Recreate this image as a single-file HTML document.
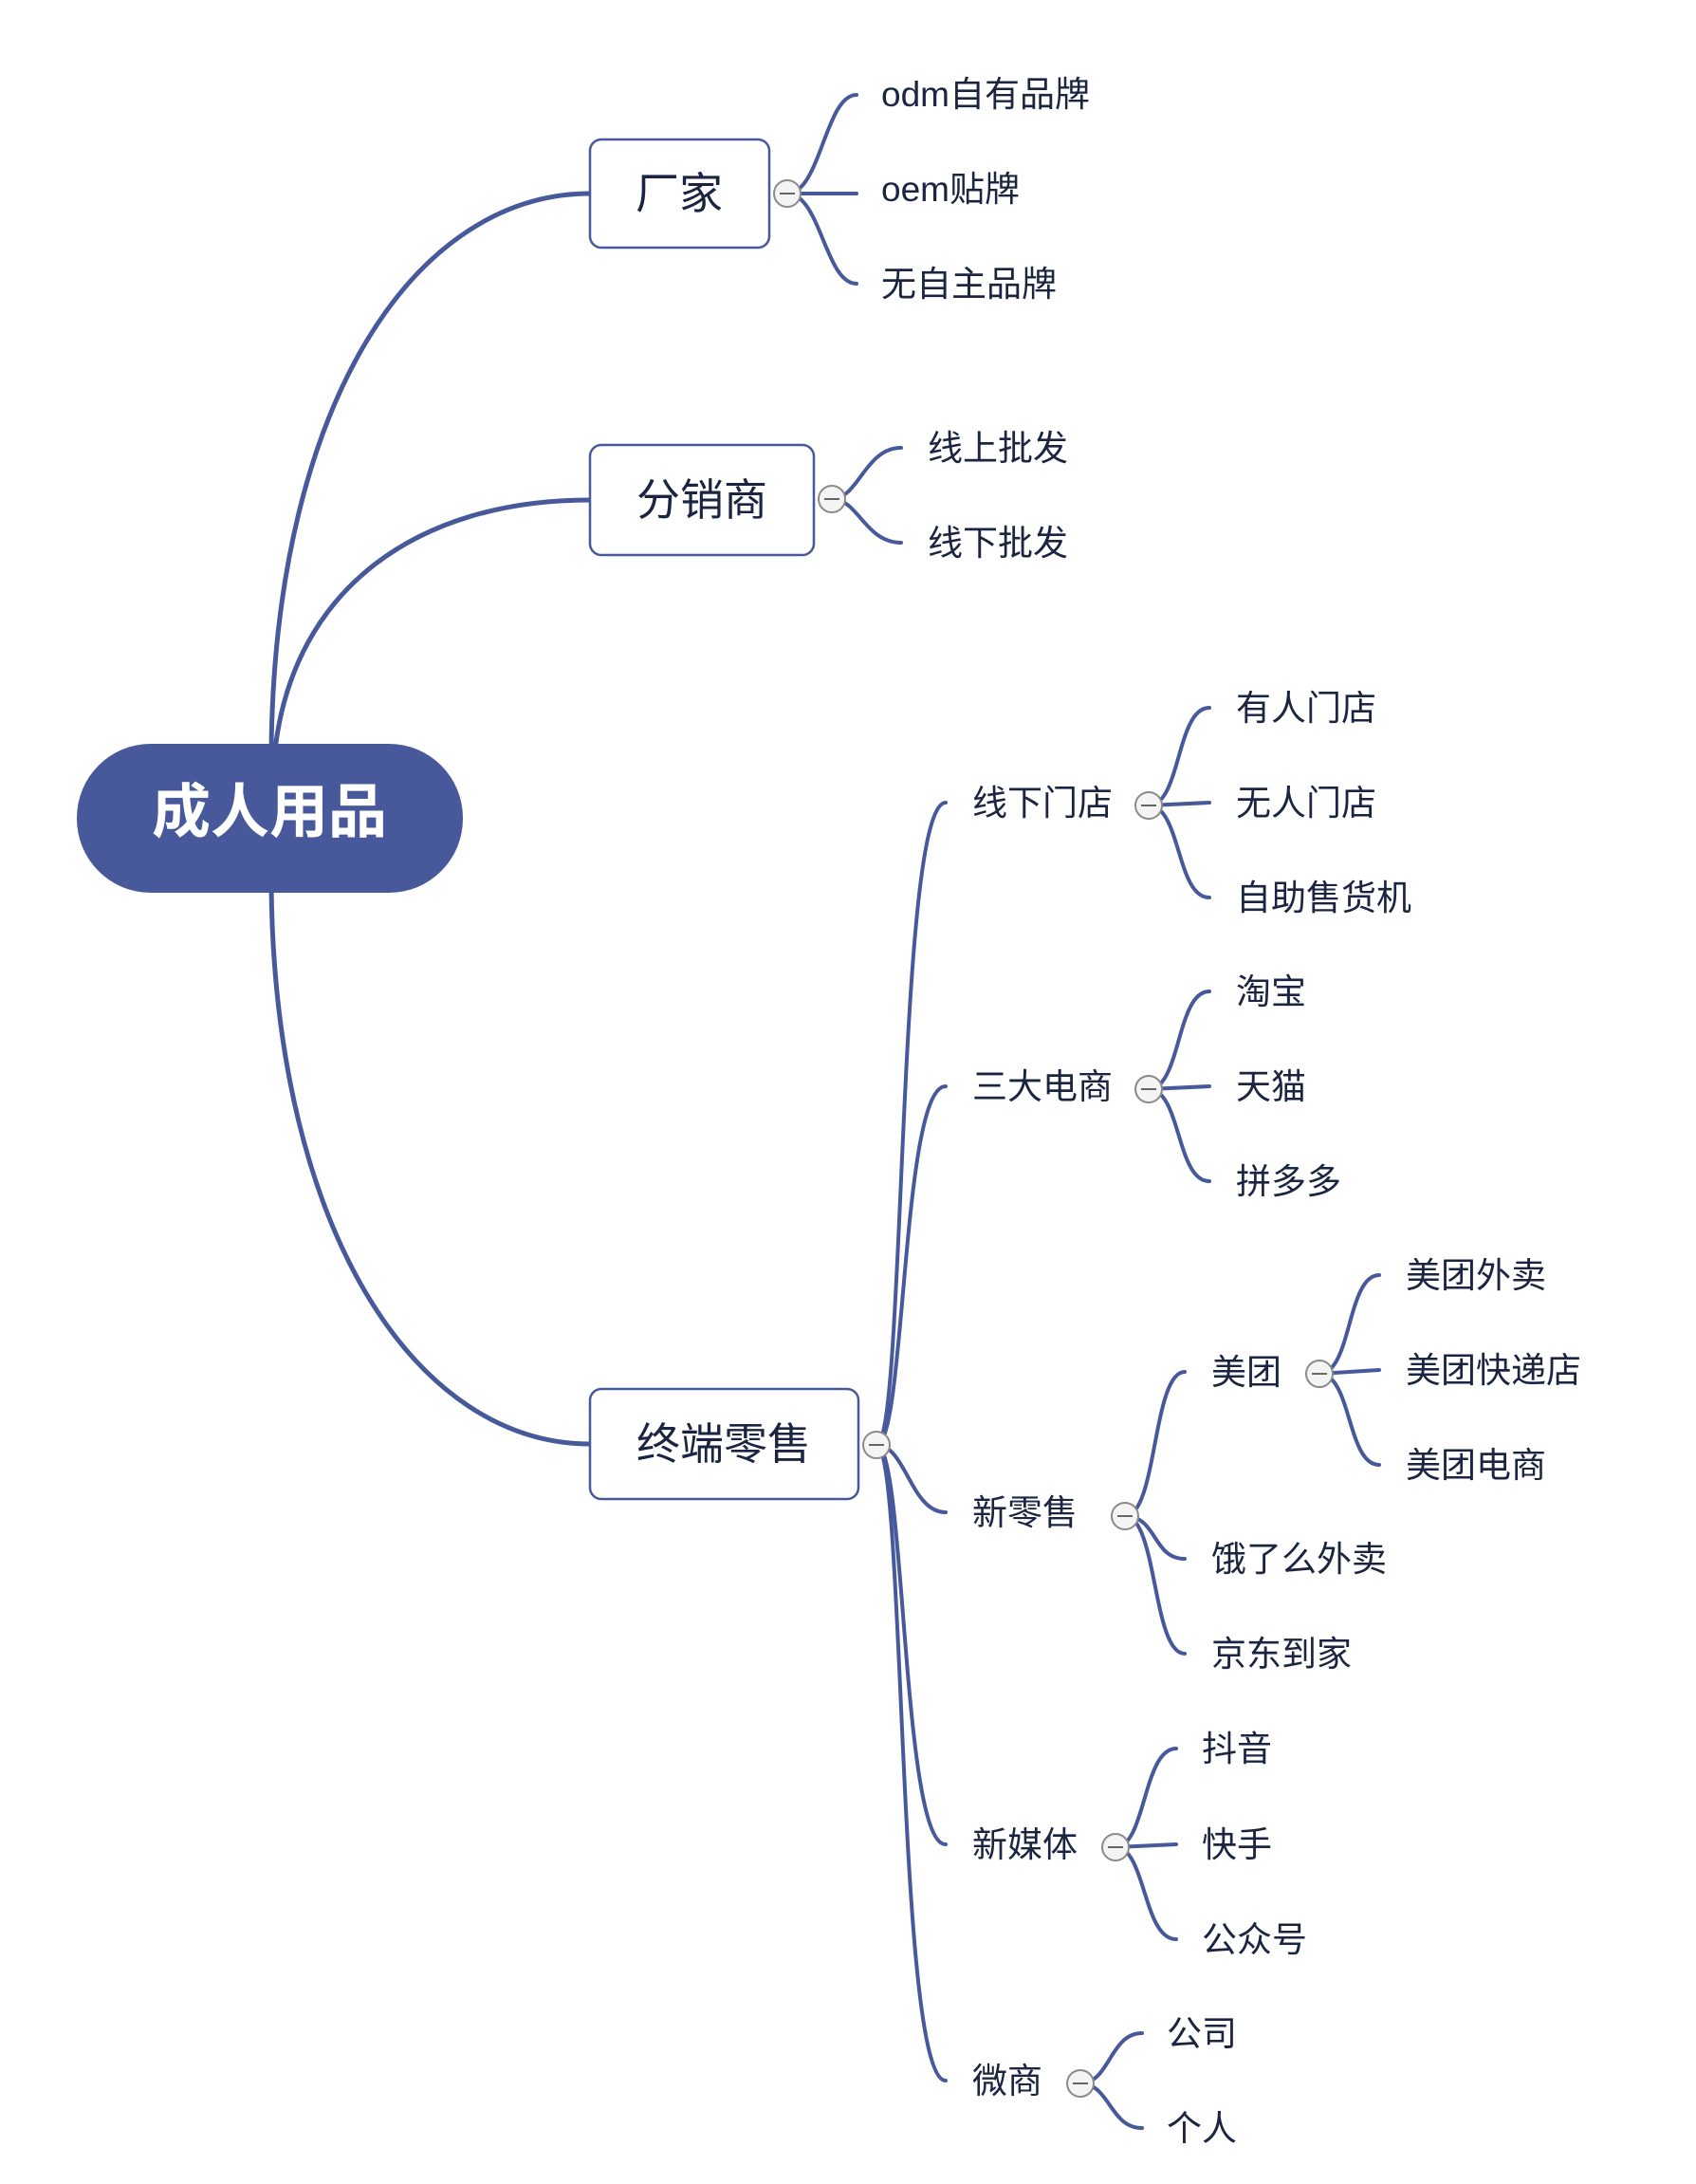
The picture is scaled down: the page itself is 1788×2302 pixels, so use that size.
<!DOCTYPE html>
<html><head><meta charset="utf-8"><style>
html,body{margin:0;padding:0;background:#fff;}
svg{display:block;}
text{font-family:"Liberation Sans","Noto Sans CJK SC",sans-serif;fill:#1b2440;}
.l{font-size:37px;}
.m{font-size:46px;}
</style></head><body>
<svg width="1788" height="2302" viewBox="0 0 1788 2302" xmlns="http://www.w3.org/2000/svg">
<g fill="none" stroke="#47599a" stroke-linecap="round">
<path d="M286,790 C290,420 440,204 622,204" stroke-width="5"/>
<path d="M290,790 C310,620 440,527 622,527" stroke-width="5"/>
<path d="M286,935 C290,1300 440,1522 622,1522" stroke-width="5"/>
<g stroke-width="4">
<path d="M830,204 C865,204 870,100 903,100"/>
<path d="M830,204 L903,204"/>
<path d="M830,204 C865,204 870,299 903,299"/>
<path d="M877,526 C905,526 912,472 950,472"/>
<path d="M877,526 C905,526 912,572 950,572"/>
<path d="M924,1523 C955,1523 945,846 997,846"/>
<path d="M924,1523 C955,1523 950,1145 997,1145"/>
<path d="M924,1523 C955,1523 960,1594 997,1594"/>
<path d="M924,1523 C955,1523 950,1944 997,1944"/>
<path d="M924,1523 C955,1523 945,2193 997,2193"/>
<path d="M1211,849 C1245,849 1240,746 1275,746"/>
<path d="M1211,849 L1275,846"/>
<path d="M1211,849 C1245,849 1240,946 1275,946"/>
<path d="M1211,1148 C1245,1148 1240,1045 1275,1045"/>
<path d="M1211,1148 L1275,1145"/>
<path d="M1211,1148 C1245,1148 1240,1245 1275,1245"/>
<path d="M1186,1598 C1220,1598 1215,1446 1249,1446"/>
<path d="M1186,1598 C1220,1598 1215,1643 1249,1643"/>
<path d="M1186,1598 C1220,1598 1215,1743 1249,1743"/>
<path d="M1391,1448 C1425,1448 1420,1344 1454,1344"/>
<path d="M1391,1448 L1454,1444"/>
<path d="M1391,1448 C1425,1448 1420,1544 1454,1544"/>
<path d="M1176,1947 C1208,1947 1205,1843 1240,1843"/>
<path d="M1176,1947 L1240,1944"/>
<path d="M1176,1947 C1208,1947 1205,2044 1240,2044"/>
<path d="M1139,2196 C1170,2196 1170,2143 1204,2143"/>
<path d="M1139,2196 C1170,2196 1170,2243 1204,2243"/>
</g>
</g>
<rect x="81" y="784" width="407" height="157" rx="78" fill="#47599a"/>
<text x="284" y="877" text-anchor="middle" style="font-size:62px;font-weight:bold;fill:#fff">成人用品</text>
<g fill="#fff" stroke="#47599a" stroke-width="2.5">
<rect x="622" y="147" width="189" height="114" rx="12"/>
<rect x="622" y="469" width="236" height="116" rx="12"/>
<rect x="622" y="1464" width="283" height="116" rx="12"/>
</g>
<text class="m" x="716" y="220" text-anchor="middle">厂家</text>
<text class="m" x="740" y="543" text-anchor="middle">分销商</text>
<text class="m" x="763" y="1538" text-anchor="middle">终端零售</text>
<g fill="#f4f4f4" stroke="#8a8a8a" stroke-width="2">
<circle cx="830" cy="204" r="14"/>
<circle cx="877" cy="526" r="14"/>
<circle cx="924" cy="1523" r="14"/>
<circle cx="1211" cy="849" r="14"/>
<circle cx="1211" cy="1148" r="14"/>
<circle cx="1186" cy="1598" r="14"/>
<circle cx="1391" cy="1448" r="14"/>
<circle cx="1176" cy="1947" r="14"/>
<circle cx="1139" cy="2196" r="14"/>
</g>
<g stroke="#666" stroke-width="2">
<path d="M822,204h16M869,526h16M916,1523h16M1203,849h16M1203,1148h16M1178,1598h16M1383,1448h16M1168,1947h16M1131,2196h16"/>
</g>
<g>
<text class="l" x="929" y="112">odm自有品牌</text>
<text class="l" x="929" y="212">oem贴牌</text>
<text class="l" x="929" y="312">无自主品牌</text>
<text class="l" x="978" y="485">线上批发</text>
<text class="l" x="978" y="585">线下批发</text>
<text class="l" x="1025" y="859">线下门店</text>
<text class="l" x="1025" y="1158">三大电商</text>
<text class="l" x="1025" y="1607">新零售</text>
<text class="l" x="1025" y="1957">新媒体</text>
<text class="l" x="1025" y="2206">微商</text>
<text class="l" x="1303" y="759">有人门店</text>
<text class="l" x="1303" y="859">无人门店</text>
<text class="l" x="1303" y="959">自助售货机</text>
<text class="l" x="1303" y="1058">淘宝</text>
<text class="l" x="1303" y="1158">天猫</text>
<text class="l" x="1303" y="1258">拼多多</text>
<text class="l" x="1277" y="1459">美团</text>
<text class="l" x="1277" y="1656">饿了么外卖</text>
<text class="l" x="1277" y="1756">京东到家</text>
<text class="l" x="1482" y="1357">美团外卖</text>
<text class="l" x="1482" y="1457">美团快递店</text>
<text class="l" x="1482" y="1557">美团电商</text>
<text class="l" x="1267" y="1856">抖音</text>
<text class="l" x="1267" y="1957">快手</text>
<text class="l" x="1267" y="2057">公众号</text>
<text class="l" x="1230" y="2156">公司</text>
<text class="l" x="1230" y="2256">个人</text>
</g>
</svg>
</body></html>
